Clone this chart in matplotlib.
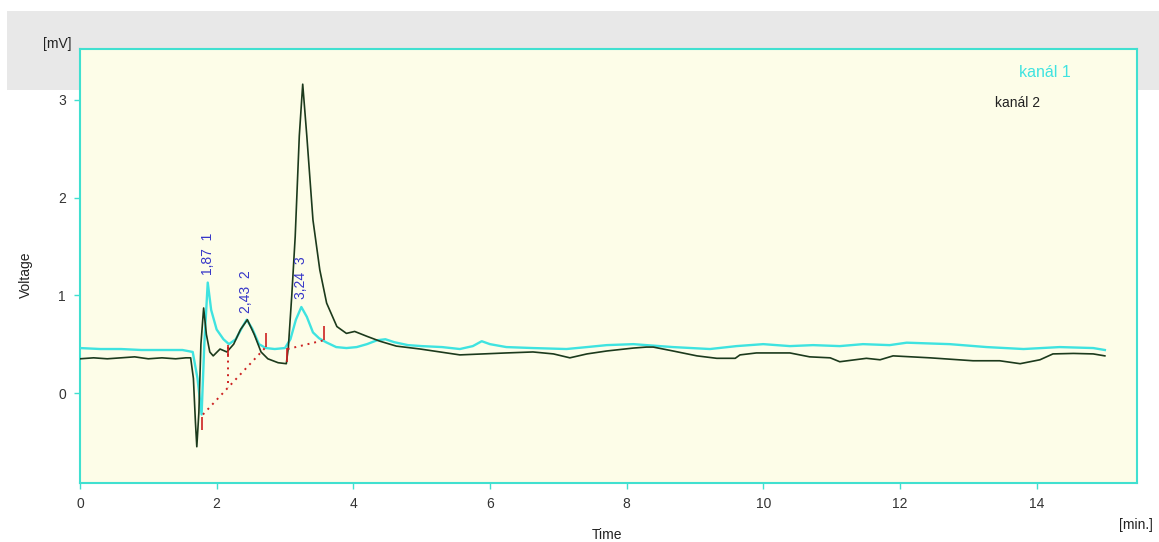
import numpy as np
import matplotlib
matplotlib.use("Agg")
import matplotlib.pyplot as plt
from matplotlib.patches import Rectangle

plt.rcParams["font.family"] = ["Liberation Sans", "DejaVu Sans"]

# kanal 1 (cyan trace)
t1 = [0, 0.3, 0.6, 0.9, 1.2, 1.5, 1.65, 1.72, 1.78, 1.82, 1.87, 1.92, 2.0, 2.1,
      2.18, 2.28, 2.38, 2.44, 2.52, 2.62, 2.72, 2.85, 3.0, 3.08, 3.16, 3.24, 3.32,
      3.41, 3.5, 3.6, 3.75, 3.9, 4.05, 4.2, 4.35, 4.47, 4.6, 4.8, 5.0, 5.3, 5.56,
      5.75, 5.88, 6.0, 6.24, 6.63, 7.12, 7.42, 7.71, 8.1, 8.29, 8.68, 9.22, 9.61,
      10.0, 10.39, 10.73, 11.12, 11.46, 11.85, 12.1, 12.73, 13.27, 13.81, 14.34,
      14.83, 15.0]
v1 = [0.46, 0.45, 0.45, 0.44, 0.44, 0.44, 0.42, 0.15, -0.22, 0.5, 1.13, 0.85, 0.65,
      0.55, 0.50, 0.55, 0.68, 0.75, 0.66, 0.50, 0.46, 0.45, 0.46, 0.55, 0.75, 0.88,
      0.78, 0.62, 0.56, 0.52, 0.47, 0.46, 0.47, 0.50, 0.54, 0.55, 0.52, 0.49, 0.48,
      0.47, 0.45, 0.48, 0.53, 0.50, 0.47, 0.46, 0.45, 0.47, 0.49, 0.50, 0.49, 0.47,
      0.45, 0.48, 0.50, 0.48, 0.49, 0.48, 0.50, 0.49, 0.515, 0.50, 0.47, 0.45, 0.47,
      0.46, 0.44]

# kanal 2 (dark green trace)
t2 = [0, 0.2, 0.4, 0.6, 0.8, 1.0, 1.2, 1.4, 1.55, 1.62, 1.66, 1.69, 1.71, 1.74,
      1.77, 1.81, 1.85, 1.9, 1.95, 2.05, 2.15, 2.25, 2.35, 2.45, 2.55, 2.65, 2.75,
      2.9, 3.02, 3.05, 3.1, 3.15, 3.21, 3.26, 3.32, 3.41, 3.51, 3.61, 3.76, 3.9,
      4.02, 4.2, 4.39, 4.63, 4.98, 5.27, 5.56, 5.9, 6.24, 6.63, 6.93, 7.17, 7.42,
      7.71, 8.1, 8.29, 8.39, 8.68, 9.03, 9.32, 9.59, 9.66, 9.9, 10.39, 10.68,
      10.98, 11.12, 11.51, 11.71, 11.9, 12.44, 13.07, 13.46, 13.76, 14.05, 14.24,
      14.54, 14.83, 15.0]
v2 = [0.35, 0.36, 0.35, 0.36, 0.37, 0.35, 0.36, 0.35, 0.36, 0.36, 0.15, -0.3,
      -0.55, -0.2, 0.5, 0.87, 0.6, 0.42, 0.38, 0.45, 0.42, 0.50, 0.65, 0.75, 0.6,
      0.42, 0.35, 0.31, 0.30, 0.47, 1.0, 1.60, 2.63, 3.16, 2.63, 1.77, 1.26, 0.92,
      0.68, 0.61, 0.63, 0.58, 0.53, 0.48, 0.45, 0.42, 0.39, 0.40, 0.41, 0.42, 0.40,
      0.36, 0.40, 0.43, 0.46, 0.47, 0.47, 0.43, 0.38, 0.355, 0.355, 0.39, 0.41,
      0.41, 0.37, 0.36, 0.32, 0.355, 0.34, 0.38, 0.36, 0.33, 0.33, 0.30, 0.34,
      0.40, 0.405, 0.40, 0.38]

# peaks
peak_times = [1.87, 2.43, 3.24]
peak_ids = ["1", "2", "3"]
peak_labels = ["1,87", "2,43", "3,24"]

# integration marks (red)
mark_t = [1.79, 2.17, 2.72, 3.03, 3.57]
mark_lo = [-0.38, 0.37, 0.47, 0.32, 0.54]
mark_hi = [-0.25, 0.49, 0.61, 0.46, 0.69]
base_t = [[1.80, 2.72], [3.04, 3.57]]
base_v = [[-0.22, 0.47], [0.45, 0.54]]
drop_t = 2.17
drop_v = [0.47, 0.05]

cyan = "#3fe3e0"
green = "#1c3a1c"
frame = "#40e0d0"
red = "#cc2020"

fig = plt.figure(figsize=(11.59, 5.42), dpi=100)
fig.patches.append(Rectangle((0.006, 0.834), 0.994, 0.146, transform=fig.transFigure,
                             facecolor="#e8e8e8", edgecolor="none", zorder=-5))
ax = fig.add_axes([0.069, 0.109, 0.912, 0.8006])
ax.set_zorder(2)
ax.set_facecolor("#fdfde8")

ax.plot(t1, v1, color=cyan, lw=1.7, zorder=3)
ax.plot(t2, v2, color=green, lw=1.2, zorder=4)

for seg_t, seg_v in zip(base_t, base_v):
    ax.plot(seg_t, seg_v, color=red, lw=1.4, ls=(0, (1, 2.5)), zorder=5)
ax.plot([drop_t, drop_t], drop_v, color=red, lw=1.4, ls=(0, (1, 2.5)), zorder=5)
ax.vlines(mark_t, mark_lo, mark_hi, color=red, lw=1.2, zorder=6)

for pt, pid, lab in zip(peak_times, peak_ids, peak_labels):
    y = np.interp(pt, t1, v1) + 0.08
    ax.text(pt, y, lab + "  " + pid, rotation=90, ha="center", va="bottom",
            color="#3535c8", fontsize=10, zorder=7)

ax.text(0.937, 0.945, "kanál 1", transform=ax.transAxes, color=cyan, fontsize=11.5,
        ha="right", va="center")
ax.text(0.908, 0.876, "kanál 2", transform=ax.transAxes, color="#222222", fontsize=10,
        ha="right", va="center")

ax.set_xlim(0, 15.47)
ax.set_ylim(-0.92, 3.52)
ax.set_xticks(range(0, 15, 2))
ax.set_yticks([0, 1, 2, 3])
ax.tick_params(colors=frame, labelcolor="#333333", length=4, width=1, labelsize=10, pad=6)
for s in ax.spines.values():
    s.set_color(frame)
    s.set_linewidth(1.5)

fig.text(0.022, 0.493, "Voltage", rotation=90, ha="center", va="center", fontsize=10,
         color="#222222")
fig.text(0.524, 0.013, "Time", ha="center", va="center", fontsize=10, color="#222222")
fig.text(0.995, 0.031, "[min.]", ha="right", va="center", fontsize=10, color="#222222")
fig.text(0.062, 0.919, "[mV]", ha="right", va="center", fontsize=10, color="#222222")

fig.savefig("out.png", dpi=100)
